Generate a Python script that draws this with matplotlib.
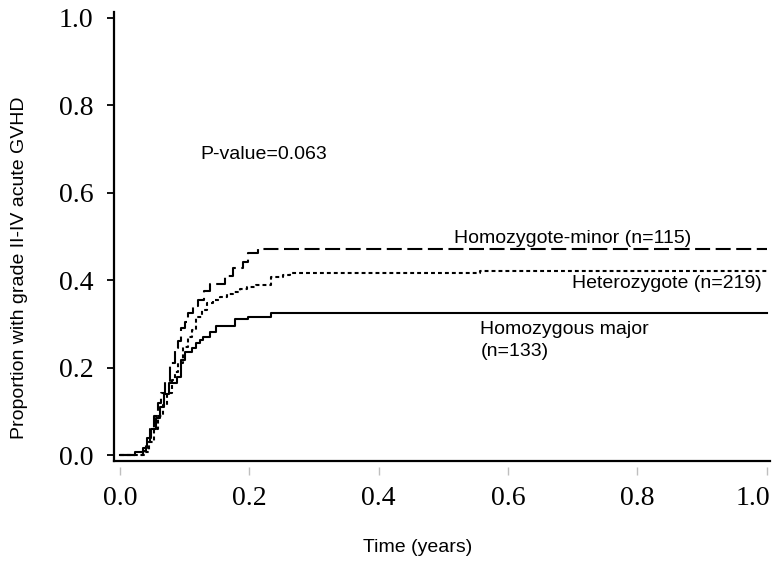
import matplotlib
matplotlib.use("Agg")
import matplotlib.pyplot as plt
from matplotlib.transforms import ScaledTranslation

plt.rcParams['lines.scale_dashes'] = False

# cumulative incidence (time in years, proportion)
minor_t = [0, 0.036, 0.040, 0.046, 0.052, 0.058, 0.064, 0.070, 0.077, 0.085, 0.090, 0.095,
           0.100, 0.105, 0.113, 0.121, 0.130, 0.139, 0.162, 0.175, 0.190, 0.198, 0.214, 1.0]
minor_y = [0, 0.009, 0.030, 0.060, 0.090, 0.120, 0.142, 0.170, 0.210, 0.245, 0.260, 0.290,
           0.305, 0.324, 0.340, 0.354, 0.375, 0.392, 0.410, 0.427, 0.442, 0.461, 0.470, 0.470]

hetero_t = [0, 0.038, 0.045, 0.052, 0.059, 0.066, 0.072, 0.080, 0.085, 0.090, 0.098, 0.105,
            0.112, 0.118, 0.126, 0.134, 0.144, 0.154, 0.165, 0.175, 0.186, 0.196, 0.210,
            0.234, 0.252, 0.263, 0.556, 1.0]
hetero_y = [0, 0.008, 0.030, 0.060, 0.090, 0.115, 0.141, 0.171, 0.190, 0.210, 0.248, 0.270,
            0.286, 0.316, 0.332, 0.347, 0.355, 0.362, 0.368, 0.373, 0.379, 0.385, 0.389,
            0.408, 0.411, 0.416, 0.421, 0.421]

major_t = [0, 0.023, 0.036, 0.042, 0.048, 0.055, 0.062, 0.068, 0.075, 0.088, 0.095, 0.100,
           0.111, 0.118, 0.124, 0.129, 0.139, 0.149, 0.178, 0.198, 0.234, 1.0]
major_y = [0, 0.008, 0.015, 0.040, 0.060, 0.085, 0.110, 0.140, 0.164, 0.179, 0.217, 0.236,
           0.245, 0.255, 0.262, 0.270, 0.282, 0.295, 0.310, 0.316, 0.324, 0.324]

ticks = [0.0, 0.2, 0.4, 0.6, 0.8, 1.0]
tick_labels = ["0.0", "0.2", "0.4", "0.6", "0.8", "1.0"]

fig = plt.figure(figsize=(7.74, 5.62), dpi=100)
ax = fig.add_axes([114/774, 1 - 461/562, 656/774, 449/562])

ax.plot(major_t, major_y, drawstyle='steps-post', color='black', lw=1.5)
ax.plot(hetero_t, hetero_y, drawstyle='steps-post', color='black', lw=1.5,
        linestyle=(0, (2.8, 2.2)))
ax.plot(minor_t, minor_y, drawstyle='steps-post', color='black', lw=1.5,
        linestyle=(0, (10.8, 4.0)))

ax.set_xlim(-0.0093, 1.005)
ax.set_ylim(-0.0137, 1.0126)

for s in ['top', 'right']:
    ax.spines[s].set_visible(False)
ax.spines['left'].set_linewidth(1.6)
# x ticks are grey and sit a little below the axis line
ax.spines['bottom'].set_position(('outward', 4))
ax.spines['bottom'].set_visible(False)
ax.plot([0, 1], [0, 0], transform=ax.transAxes, color='black', lw=1.6, clip_on=False)

ax.set_xticks(ticks)
ax.set_xticklabels(tick_labels)
ax.set_yticks(ticks)
ax.set_yticklabels(tick_labels)
ax.tick_params(axis='x', length=6, width=1, color='0.75', pad=8)
ax.tick_params(axis='y', length=5, width=1.3, color='black', pad=10)
for lab in ax.get_xticklabels() + ax.get_yticklabels():
    lab.set_fontfamily('Liberation Serif')
    lab.set_fontsize(20)

# last x label would run off the edge, pull it in
last = ax.get_xticklabels()[-1]
last.set_horizontalalignment('right')
last.set_transform(last.get_transform() + ScaledTranslation(3/100, 0, fig.dpi_scale_trans))

sans = 'Liberation Sans'
ax.text(0.124, 0.686, "P-value=0.063", fontsize=14, family=sans, va='center')
ax.text(0.517, 0.496, "Homozygote-minor (n=115)", fontsize=14, family=sans, va='center')
ax.text(0.9915, 0.393, "Heterozygote (n=219)", fontsize=14, family=sans, va='center', ha='right')
ax.text(0.557, 0.306, "Homozygous major\n(n=133)", fontsize=14, family=sans, va='top',
        linespacing=1.35)

fig.text(418/774, 1 - 548/562, "Time (years)", fontsize=14, family=sans,
         ha='center', va='center')
fig.text(20/774, 1 - 268/562, "Proportion with grade II-IV acute GVHD", fontsize=14,
         family=sans, rotation=90, ha='center', va='center')

fig.savefig("out.png", dpi=100)
